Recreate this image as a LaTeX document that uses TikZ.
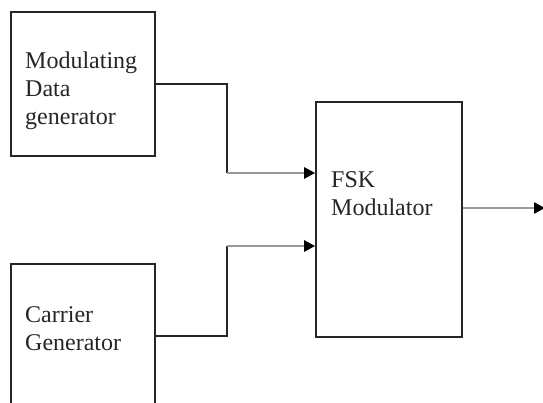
\documentclass[tikz,border=0pt]{standalone}
\usepackage{fontspec}
\setmainfont{Liberation Serif}
\usetikzlibrary{arrows.meta}
\begin{document}
\begin{tikzpicture}[x=1pt,y=-1pt,
  blk/.style={draw=black!85,line width=1.6pt,minimum width=144pt,inner sep=0pt},
  lbl/.style={anchor=base west,inner sep=0pt,align=left,font=\fontsize{24}{28}\selectfont,text=black!85},
  wire/.style={draw=black!85,line width=1.6pt},
  feed/.style={draw=black!40,line width=2.4pt,-{Triangle[length=11pt,width=11pt,color=black]}}]
\useasboundingbox (0,0) rectangle (543,402);
\clip (0,0) rectangle (543,402);
\node[blk,minimum height=144pt] (m) at (83,84) {};
\node[blk,minimum height=144pt] (c) at (83,336) {};
\node[blk,minimum width=146pt,minimum height=235pt] (f) at (389,219.5) {};
\node[lbl] (mt) at (25,124) {Modulating\\Data\\generator};
\node[lbl] (ct) at (25,350) {Carrier\\Generator};
\node[lbl] (ft) at (331,215) {FSK\\Modulator};
\coordinate (j1) at (227,173);
\coordinate (j2) at (227,246);
\coordinate (o) at (545,208);
\draw[wire] (m.east) -| (j1);
\draw[feed] (j1) -- (j1 -| f.west);
\draw[wire] (c.east) -| (j2);
\draw[feed] (j2) -- (j2 -| f.west);
\draw[feed] (o -| f.east) -- (o);
\end{tikzpicture}
\end{document}
